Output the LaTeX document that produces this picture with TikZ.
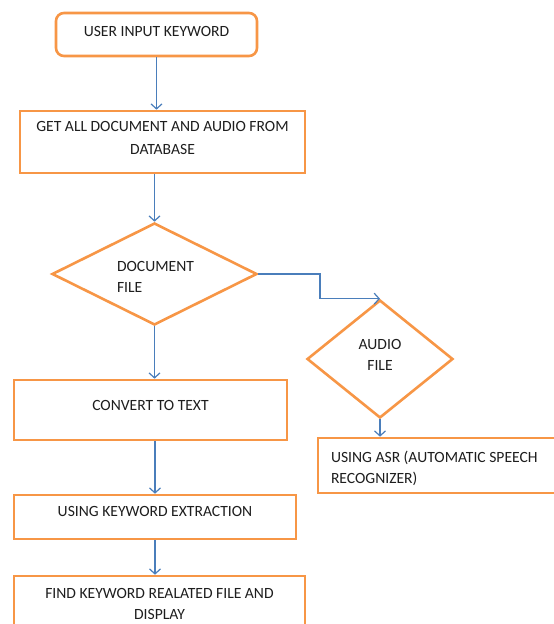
\documentclass[tikz,border=0pt]{standalone}
\usepackage{fontspec}
\setmainfont{Carlito}
\usetikzlibrary{shapes.geometric,arrows.meta}
\definecolor{boxorange}{HTML}{F79646}
\definecolor{linkblue}{HTML}{4A7EBB}
\definecolor{txt}{HTML}{1E1E1E}
\tikzset{
  base/.style={draw=boxorange, line width=2.6pt, fill=white, text=txt, inner sep=0pt,
    font=\fontsize{15.6}{21.5}\selectfont},
  procbox/.style={base, rectangle, align=center},
  roundbox/.style={base, rectangle, rounded corners=8pt, align=center},
  decision/.style={base, diamond},
  link/.style={draw=linkblue, line width=1.2pt, -{Straight Barb[length=5pt,width=11pt,line width=1.2pt]}}
}
\begin{document}
\begin{tikzpicture}[x=1pt,y=-1pt]
\useasboundingbox (0,0) rectangle (554,624);
\clip (0,0) rectangle (554,624);
\node[roundbox, minimum width=201pt, minimum height=43pt, text depth=7pt] (start) at (156.5,34.5) {USER INPUT KEYWORD};
\node[procbox, minimum width=285pt, minimum height=62pt, text depth=8pt, font=\fontsize{15.6}{23.5}\selectfont] (get) at (162.5,142) {GET ALL DOCUMENT AND AUDIO FROM\\DATABASE};
\node[decision, minimum width=205pt, minimum height=102pt] (doc) at (154.5,274) {};
\node[text=txt, font=\fontsize{15.6}{21.5}\selectfont, align=left, inner sep=0pt] (doclbl) at (155.5,277) {DOCUMENT\\FILE};
\node[decision, minimum width=146pt, minimum height=118pt, align=center, text depth=8pt] (aud) at (380,359) {AUDIO\\FILE};
\node[procbox, minimum width=246pt, minimum height=55pt, text width=224pt, align=flush left, inner xsep=13pt] (asr) at (443,465.5) {\rule{0pt}{17.5pt}USING ASR (AUTOMATIC SPEECH\\RECOGNIZER)};
\node[procbox, minimum width=273pt, minimum height=60pt, text depth=10pt] (conv) at (150.5,410) {CONVERT TO TEXT};
\node[procbox, minimum width=282pt, minimum height=44pt, text depth=11pt] (kw) at (155,517) {USING KEYWORD EXTRACTION};
\node[procbox, minimum width=291pt, minimum height=56pt] (fin) at (159.5,604) {FIND KEYWORD REALATED FILE AND\\DISPLAY};
\draw[link] (start.south) -- (start.south |- get.north);
\draw[link] (get.south -| doc.north) -- (doc.north);
\draw[link] (doc.east) -| ([xshift=-60pt]aud.north) -- (aud.north);
\draw[link] (aud.south) -- (aud.south |- asr.north);
\draw[link] (doc.south) -- (doc.south |- conv.north);
\draw[link] (conv.south -| kw.north) -- (kw.north);
\draw[link] (kw.south) -- (kw.south |- fin.north);
\end{tikzpicture}
\end{document}
